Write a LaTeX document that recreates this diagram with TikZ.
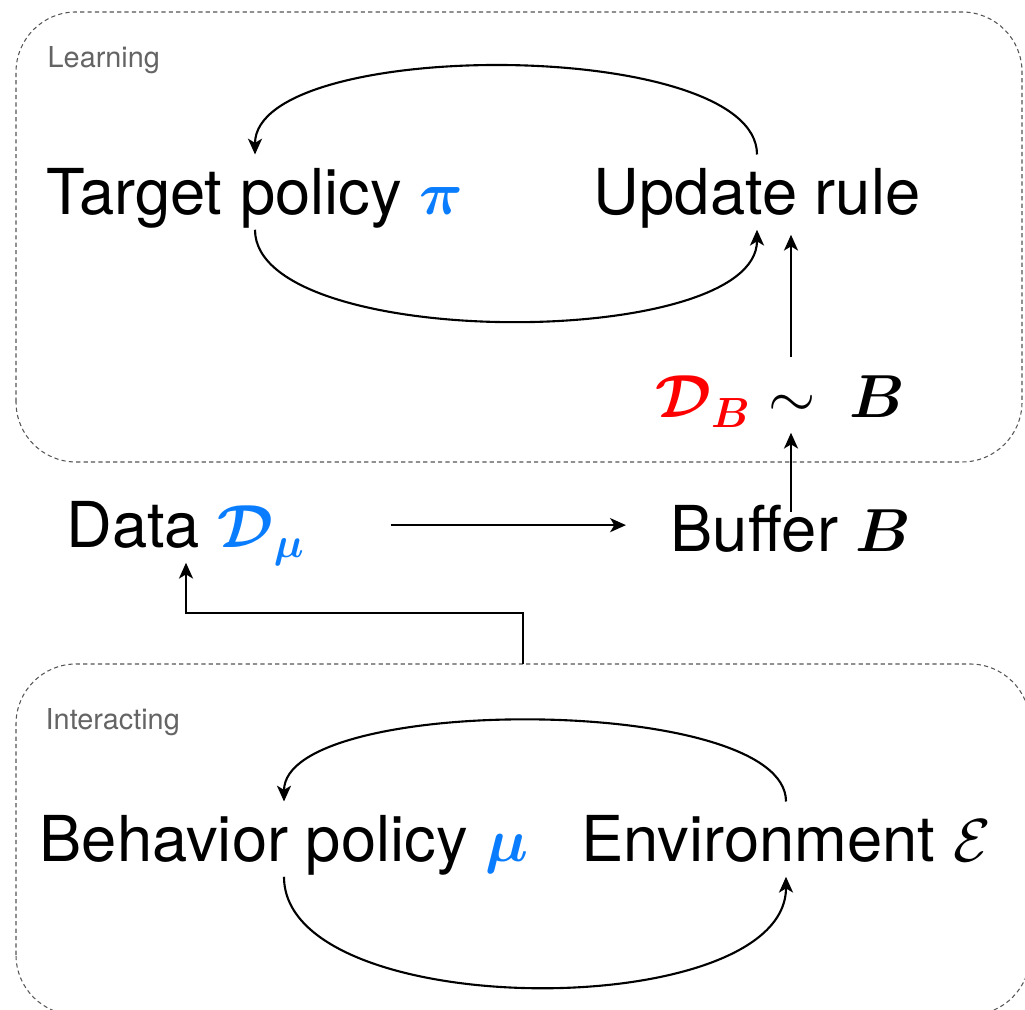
\documentclass[tikz,border=0pt]{standalone}
\usepackage{fontspec}
\usepackage{amsmath,bm}
\setmainfont{TeX Gyre Heros}
\usetikzlibrary{arrows.meta}
\definecolor{piblue}{RGB}{10,125,255}
\definecolor{dbred}{RGB}{255,0,0}
\definecolor{boxgray}{RGB}{85,85,85}
\definecolor{lblgray}{RGB}{100,100,100}
\tikzset{
  bigtext/.style={inner sep=0pt, anchor=base,
    font=\fontsize{18}{20}\selectfont, text height=17pt, text depth=4pt},
  grouplbl/.style={inner sep=0pt, anchor=base west, text=lblgray,
    font=\fontsize{8.2}{10}\selectfont},
  groupbox/.style={draw=boxgray, line width=0.3pt, dash pattern=on 1.2pt off 0.9pt,
    rounded corners=0.6cm},
  flow/.style={line width=0.6pt, -{Stealth[length=4.5pt,width=4pt,inset=1.2pt]}}
}
\begin{document}
\begin{tikzpicture}[x=0.01cm, y=0.01cm]
      \useasboundingbox (0,0) rectangle (1025,1010);
      \begin{scope}
        \clip (0,0) rectangle (1025,1010);
        % Boxes (groups)
        \draw[groupbox] (16,548) rectangle (1022,998);
        \draw[groupbox] (16,-5) rectangle (1030,346);
      \end{scope}
      \node[grouplbl] (learnlbl) at (47,942) {Learning};
      \node[grouplbl] (interlbl) at (45,280) {Interacting};
      \coordinate (itop) at (523,346);

      % Nodes (learning)
      \node[bigtext] (target) at (255,795) {Target policy $\color{piblue}\bm{\pi}$};
      \node[bigtext] (update) at (757,795) {Update rule};
      \node[bigtext] (dB) at (780,592) {$\color{dbred}\bm{\mathcal{D}}_{\bm{B}}\color{black}\sim\;\bm{B}$};

      % Nodes (middle)
      \node[bigtext] (data) at (186,462) {Data $\color{piblue}\bm{\mathcal{D}}_{\bm{\mu}}$};
      \node[bigtext] (buffer) at (791,458) {Buffer $\bm{B}$};

      % Nodes (interacting)
      \node[bigtext] (behav) at (284,148) {Behavior policy $\color{piblue}\bm{\mu}$};
      \node[bigtext] (env) at (786,148) {Environment $\mathcal{E}$};

      % Arcs (learning)
      \draw[flow] (update.north) to[out=90, in=90, looseness=0.6] (target.north);
      \draw[flow] (target.south) to[out=-90, in=-90, looseness=0.62] (update.south);
      \draw[flow] (dB.north -| buffer.north) -- ([yshift=-0.5mm]update.south -| buffer.north);

      % Arcs (middle)
      \draw[flow] ([yshift=-2mm]buffer.north) -- (dB.south -| buffer.north);
      \draw[flow, shorten <=8.5mm, shorten >=4.4mm] (data.east) -- (data.east -| buffer.west);
      \draw[flow] (itop) -- ++(0,51) -| (data.south);

      % Arcs (interacting)
      \draw[flow] (env.north) to[out=90, in=90, looseness=0.55] (behav.north);
      \draw[flow] (behav.south) to[out=-90, in=-90, looseness=0.75] (env.south);
\end{tikzpicture}
\end{document}
